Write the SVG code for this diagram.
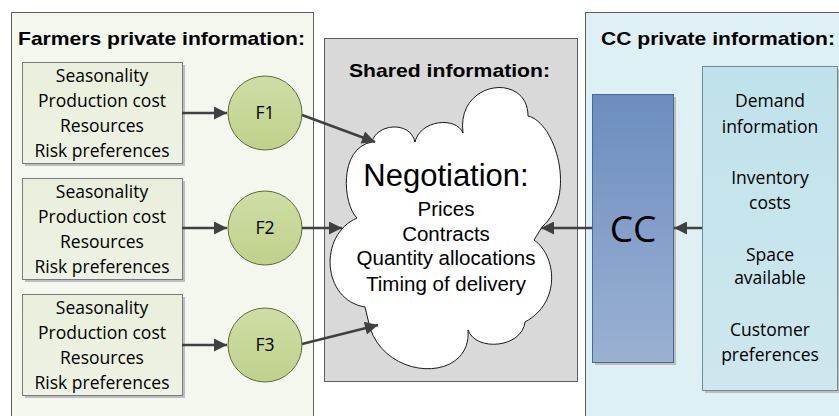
<svg xmlns="http://www.w3.org/2000/svg" width="839" height="416" viewBox="0 0 839 416">
<defs>
<linearGradient id="gInfo" x1="0" y1="0" x2="0" y2="1"><stop offset="0" stop-color="#e9efdc"/><stop offset="1" stop-color="#eef2e4"/></linearGradient>
<linearGradient id="gCirc" x1="0" y1="0" x2="0" y2="1"><stop offset="0" stop-color="#cfdea5"/><stop offset="1" stop-color="#bfd18c"/></linearGradient>
<linearGradient id="gCC" x1="0" y1="0" x2="0" y2="1"><stop offset="0" stop-color="#6c8dbf"/><stop offset="1" stop-color="#9bb1d3"/></linearGradient>
<linearGradient id="gList" x1="0" y1="0" x2="0" y2="1"><stop offset="0" stop-color="#bfe2ea"/><stop offset="1" stop-color="#cfe7ee"/></linearGradient>
<marker id="ah" viewBox="0 0 10 10" refX="10" refY="5" markerWidth="6" markerHeight="5.2" markerUnits="strokeWidth" orient="auto"><path d="M0,0 L10,5 L0,10 Z" fill="#404040"/></marker>
</defs>
<style>
.panel{stroke:#5f5f5f;stroke-width:1}
.title{font-family:"Liberation Sans",Arial,sans-serif;font-weight:bold;font-size:19px;fill:#000}
.cal{font-family:"Open Sans","Liberation Sans",sans-serif;font-size:17.5px;fill:#000;text-anchor:middle}
.ar{font-family:"Liberation Sans",Arial,sans-serif;fill:#000;text-anchor:middle}
.info{fill:url(#gInfo);stroke:#7a7a7a;stroke-width:1}
.shadow{fill:#bdbdbd}
.circ{fill:url(#gCirc);stroke:#5d6b3c;stroke-width:1}
.conn{stroke:#404040;stroke-width:2.5;fill:none;marker-end:url(#ah)}
</style>

<g id="farmers-panel">
<rect class="panel" x="11.5" y="12.5" width="302" height="420" fill="#f4f7ee"/>
<text class="title" x="18" y="45" textLength="287" lengthAdjust="spacingAndGlyphs">Farmers private information:</text>
</g>

<g id="shared-panel">
<rect class="panel" x="324.5" y="38.5" width="253" height="343" fill="#d9d9d9"/>
<text class="title" x="349" y="77" textLength="201" lengthAdjust="spacingAndGlyphs">Shared information:</text>
</g>

<g id="cc-panel">
<rect class="panel" x="585.5" y="12.5" width="270" height="420" fill="#dff0f5"/>
<text class="title" x="601" y="45" textLength="234" lengthAdjust="spacingAndGlyphs">CC private information:</text>
</g>

<g id="info1">
<rect class="shadow" x="25" y="65" width="160" height="101"/>
<rect class="info" x="22.5" y="62.5" width="160" height="101"/>
<text class="cal" x="102" y="82">Seasonality</text>
<text class="cal" x="102" y="107">Production cost</text>
<text class="cal" x="102" y="132">Resources</text>
<text class="cal" x="102" y="157">Risk preferences</text>
</g>
<g id="info2">
<rect class="shadow" x="25" y="181" width="160" height="101"/>
<rect class="info" x="22.5" y="178.5" width="160" height="101"/>
<text class="cal" x="102" y="198">Seasonality</text>
<text class="cal" x="102" y="223">Production cost</text>
<text class="cal" x="102" y="248">Resources</text>
<text class="cal" x="102" y="273">Risk preferences</text>
</g>
<g id="info3">
<rect class="shadow" x="25" y="297" width="160" height="101"/>
<rect class="info" x="22.5" y="294.5" width="160" height="101"/>
<text class="cal" x="102" y="314">Seasonality</text>
<text class="cal" x="102" y="339">Production cost</text>
<text class="cal" x="102" y="364">Resources</text>
<text class="cal" x="102" y="389">Risk preferences</text>
</g>

<g id="F1"><circle class="circ" cx="265" cy="113" r="37"/><text class="cal" x="265" y="119">F1</text></g>
<g id="F2"><circle class="circ" cx="265" cy="228" r="37"/><text class="cal" x="265" y="234">F2</text></g>
<g id="F3"><circle class="circ" cx="265" cy="345" r="37"/><text class="cal" x="265" y="351">F3</text></g>

<g id="negotiation">
<path d="M463,133 C456,80 528,72 528,116 C555,122 578,195 542,227 L534,240 C556,255 562,302 525,322 C522,348 476,352 468,330 C472,382 388,382 370,328 L365,307 C322,300 318,235 357,218 C343,205 338,148 372,142 C376,124 410,120 415,142 C420,120 456,116 463,133 Z" fill="#ffffff" stroke="#1a1a1a" stroke-width="1"/>
<text class="ar" x="446" y="186" font-size="31">Negotiation:</text>
<text class="ar" x="446" y="216" font-size="20.5">Prices</text>
<text class="ar" x="446" y="241" font-size="20.5">Contracts</text>
<text class="ar" x="446" y="265" font-size="20.5">Quantity allocations</text>
<text class="ar" x="446" y="291" font-size="20.5">Timing of delivery</text>
</g>

<g id="CC">
<rect class="shadow" x="595" y="97" width="81" height="268"/>
<rect x="592.5" y="94.5" width="81" height="268" fill="url(#gCC)" stroke="#4b6894" stroke-width="1"/>
<text class="cal" x="633" y="242" style="font-size:37px">CC</text>
</g>

<g id="cc-info">
<rect class="shadow" x="705" y="69" width="136" height="324"/>
<rect x="702.5" y="66.5" width="135" height="324" fill="url(#gList)" stroke="#6f8c94" stroke-width="1"/>
<text class="cal" x="770" y="107">Demand</text>
<text class="cal" x="770" y="133">information</text>
<text class="cal" x="770" y="184">Inventory</text>
<text class="cal" x="770" y="209">costs</text>
<text class="cal" x="770" y="261">Space</text>
<text class="cal" x="770" y="284">available</text>
<text class="cal" x="770" y="336">Customer</text>
<text class="cal" x="770" y="361">preferences</text>
</g>

<g id="connectors">
<line class="conn" x1="182" y1="113" x2="227" y2="113"/>
<line class="conn" x1="182" y1="228" x2="227" y2="228"/>
<line class="conn" x1="182" y1="345" x2="227" y2="345"/>
<line class="conn" x1="302" y1="115" x2="375" y2="142"/>
<line class="conn" x1="302" y1="228" x2="342" y2="228"/>
<line class="conn" x1="302" y1="344" x2="378" y2="325"/>
<line class="conn" x1="592" y1="228" x2="541" y2="228"/>
<line class="conn" x1="702" y1="228" x2="674" y2="228"/>
</g>
</svg>
